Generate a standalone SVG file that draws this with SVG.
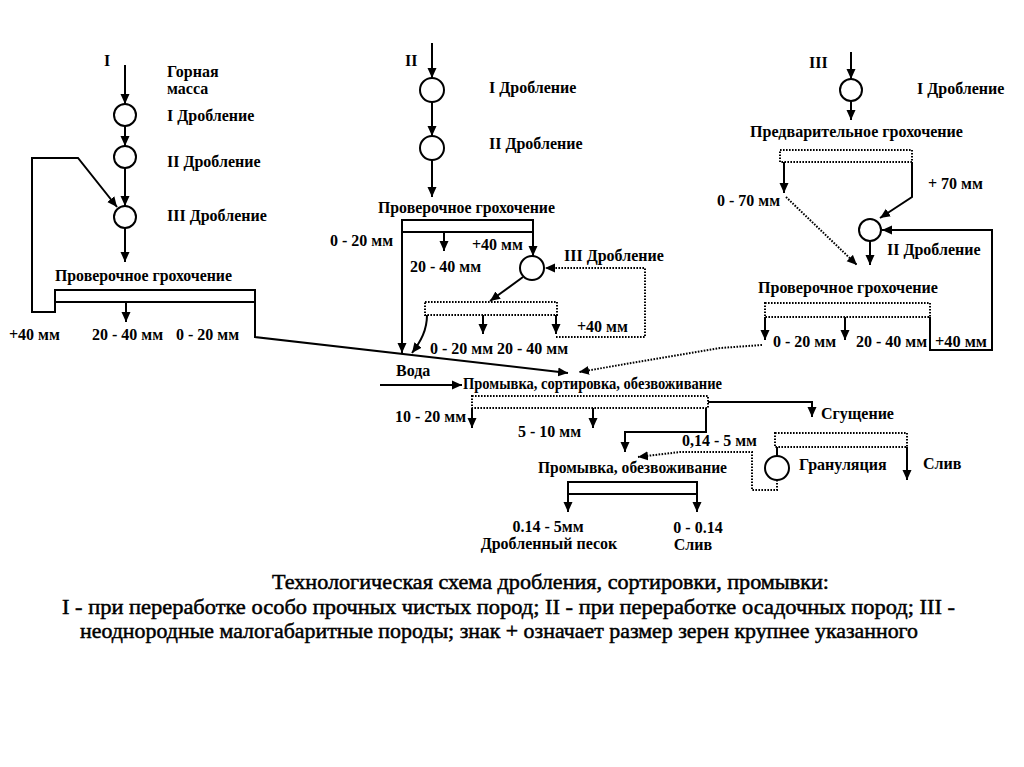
<svg xmlns="http://www.w3.org/2000/svg" width="1024" height="767" viewBox="0 0 1024 767">
<defs>
<style>
.ln{stroke:#000;stroke-width:2;fill:none}
.dt{stroke:#000;stroke-width:2;stroke-dasharray:1.6 1.4;fill:none}
.c{stroke:#000;stroke-width:2;fill:#fff}
.t{font-family:'Liberation Serif','DejaVu Serif',serif;font-size:16px;font-weight:bold;fill:#000}
.m{text-anchor:middle}
.cap{font-family:'Liberation Serif','DejaVu Serif',serif;font-size:22px;fill:#000;stroke:#000;stroke-width:0.5}
</style>
<marker id="a" markerUnits="userSpaceOnUse" markerWidth="10" markerHeight="10" refX="10" refY="5" orient="auto" viewBox="0 0 10 10">
<path d="M0,0.5 L10,5 L0,9.5 z" fill="#000"/>
</marker>
</defs>
<rect width="1024" height="767" fill="#fff"/>

<!-- Section I -->
<g id="s1-label"><text class="t" x="104" y="66">I</text></g>
<g id="s1-mass"><text class="t" x="167" y="77">Горная</text><text class="t" x="167" y="94">масса</text></g>
<g id="s1-c1"><circle class="c" cx="125" cy="115" r="11"/><text class="t" x="167" y="121">I Дробление</text></g>
<g id="s1-c2"><circle class="c" cx="125" cy="157" r="11"/><text class="t" x="167" y="167">II Дробление</text></g>
<g id="s1-c3"><circle class="c" cx="125" cy="217" r="11"/><text class="t" x="167" y="221">III Дробление</text></g>
<g id="s1-screen"><text class="t" x="55" y="281" textLength="177" lengthAdjust="spacingAndGlyphs">Проверочное грохочение</text><rect class="ln" x="55" y="290" width="200" height="12"/></g>
<g id="s1-out"><text class="t" x="9" y="340">+40 мм</text><text class="t" x="92" y="340">20 - 40 мм</text><text class="t" x="176" y="340">0 - 20 мм</text></g>

<!-- Section II -->
<g id="s2-label"><text class="t" x="405" y="66">II</text></g>
<g id="s2-c1"><circle class="c" cx="432" cy="90" r="12"/><text class="t" x="489" y="93">I Дробление</text></g>
<g id="s2-c2"><circle class="c" cx="432" cy="148" r="12"/><text class="t" x="489" y="149">II Дробление</text></g>
<g id="s2-screen1"><text class="t" x="378" y="213" textLength="177" lengthAdjust="spacingAndGlyphs">Проверочное грохочение</text><rect class="ln" x="402" y="220" width="131" height="12"/></g>
<g id="s2-out1"><text class="t" x="330" y="246">0 - 20 мм</text><text class="t" x="472" y="250">+40 мм</text><text class="t" x="410" y="272">20 - 40 мм</text></g>
<g id="s2-c3"><circle class="c" cx="532" cy="268" r="12"/><text class="t" x="564" y="261">III Дробление</text></g>
<g id="s2-screen2"><rect class="dt" x="425" y="302" width="132" height="13"/></g>
<g id="s2-out2"><text class="t" x="430" y="354">0 - 20 мм</text><text class="t" x="497" y="354">20 - 40 мм</text><text class="t" x="577" y="332">+40 мм</text></g>

<!-- Section III -->
<g id="s3-label"><text class="t" x="809" y="68">III</text></g>
<g id="s3-c1"><circle class="c" cx="851" cy="90" r="11"/><text class="t" x="917" y="94">I Дробление</text></g>
<g id="s3-screen1"><text class="t" x="750" y="137" textLength="213" lengthAdjust="spacingAndGlyphs">Предварительное грохочение</text><rect class="dt" x="780" y="150" width="132" height="12"/></g>
<g id="s3-out1"><text class="t" x="717" y="206">0 - 70 мм</text><text class="t" x="928" y="189">+ 70 мм</text></g>
<g id="s3-c2"><circle class="c" cx="870" cy="230" r="11"/><text class="t" x="887" y="255">II Дробление</text></g>
<g id="s3-screen2"><text class="t" x="758" y="293" textLength="180" lengthAdjust="spacingAndGlyphs">Проверочное грохочение</text><rect class="dt" x="765" y="303" width="165" height="14"/></g>
<g id="s3-out2"><text class="t" x="773" y="347">0 - 20 мм</text><text class="t" x="856" y="347">20 - 40 мм</text><text class="t" x="935" y="347" textLength="52" lengthAdjust="spacingAndGlyphs">+40 мм</text></g>

<!-- Washing -->
<g id="water"><text class="t" x="396" y="376">Вода</text></g>
<g id="wash1"><text class="t" x="463" y="389" textLength="259" lengthAdjust="spacingAndGlyphs">Промывка, сортировка, обезвоживание</text><rect class="dt" x="472" y="396" width="236" height="12"/></g>
<g id="wash1-out"><text class="t" x="395" y="422">10 - 20 мм</text><text class="t" x="518" y="437">5 - 10 мм</text></g>
<g id="thick"><text class="t" x="821" y="419">Сгущение</text></g>
<g id="gran"><rect class="dt" x="775" y="433" width="132" height="14"/><circle class="c" cx="777" cy="468" r="12"/><text class="t" x="799" y="470">Грануляция</text></g>
<g id="drain1"><text class="t" x="923" y="469">Слив</text></g>
<g id="sand-label"><text class="t" x="682" y="446" textLength="75" lengthAdjust="spacingAndGlyphs">0,14 - 5 мм</text></g>
<g id="wash2"><text class="t" x="538" y="473" textLength="189" lengthAdjust="spacingAndGlyphs">Промывка, обезвоживание</text><rect class="ln" x="568" y="482" width="129" height="12"/></g>
<g id="sand"><text class="t m" x="548" y="532">0.14 - 5мм</text><text class="t m" x="549" y="549">Дробленный песок</text></g>
<g id="drain2"><text class="t m" x="698" y="533">0 - 0.14</text><text class="t m" x="693" y="550">Слив</text></g>

<!-- Connectors -->
<g id="connectors">
<path class="ln" d="M125,65 L125,104" marker-end="url(#a)"/>
<path class="ln" d="M125,126 L125,146" marker-end="url(#a)"/>
<path class="ln" d="M125,168 L125,206" marker-end="url(#a)"/>
<path class="ln" d="M125,228 L125,262" marker-end="url(#a)"/>
<path class="ln" d="M55,302 L55,312 L32,312 L32,158 L78,158 L117,207" marker-end="url(#a)"/>
<path class="ln" d="M126,302 L126,322" marker-end="url(#a)"/>
<path class="ln" d="M255,302 L255,337 L568,373" marker-end="url(#a)"/>

<path class="ln" d="M432,43 L432,78" marker-end="url(#a)"/>
<path class="ln" d="M432,102 L432,136" marker-end="url(#a)"/>
<path class="ln" d="M432,160 L432,197" marker-end="url(#a)"/>
<path class="ln" d="M402,232 L402,353" marker-end="url(#a)"/>
<path class="ln" d="M444,232 L444,251" marker-end="url(#a)"/>
<path class="ln" d="M533,232 L533,256" marker-end="url(#a)"/>
<path class="ln" d="M523,277 L490,301" marker-end="url(#a)"/>
<path class="ln" d="M483,315 L483,334" marker-end="url(#a)"/>
<path class="ln" d="M556,315 L556,334" marker-end="url(#a)"/>
<path class="dt" d="M556,337 L645,337 L645,268 L545,268" marker-end="url(#a)"/>
<path class="ln" d="M427,315 C427,330 421,341 412,353" marker-end="url(#a)"/>

<path class="ln" d="M851,52 L851,79" marker-end="url(#a)"/>
<path class="ln" d="M851,101 L851,120" marker-end="url(#a)"/>
<path class="ln" d="M784,162 L784,193" marker-end="url(#a)"/>
<path class="dt" d="M786,197 L857,265" marker-end="url(#a)"/>
<path class="ln" d="M912,162 L912,197 L880,218" marker-end="url(#a)"/>
<path class="ln" d="M870,241 L870,265" marker-end="url(#a)"/>
<path class="ln" d="M930,317 L930,350 L992,350 L992,230 L882,230" marker-end="url(#a)"/>
<path class="ln" d="M765,317 L765,340" marker-end="url(#a)"/>
<path class="ln" d="M845,317 L845,340" marker-end="url(#a)"/>
<path class="dt" d="M762,345 L720,348 L579,372" marker-end="url(#a)"/>

<path class="ln" d="M380,385 L462,385" marker-end="url(#a)"/>
<path class="ln" d="M472,408 L472,428" marker-end="url(#a)"/>
<path class="ln" d="M593,408 L593,428" marker-end="url(#a)"/>
<path class="ln" d="M706,408 L706,432 L625,432 L625,452" marker-end="url(#a)"/>
<path class="ln" d="M708,402 L812,402 L812,417" marker-end="url(#a)"/>
<path class="ln" d="M777,447 L777,456"/>
<path class="ln" d="M907,447 L907,480" marker-end="url(#a)"/>
<path class="dt" d="M777,480 L777,490 L752,490 L752,452 L680,452 L638,457" marker-end="url(#a)"/>
<path class="ln" d="M568,494 L568,512" marker-end="url(#a)"/>
<path class="ln" d="M697,494 L697,512" marker-end="url(#a)"/>
</g>

<!-- Caption -->
<g id="caption">
<text class="cap" x="272" y="589" textLength="557" lengthAdjust="spacingAndGlyphs">Технологическая схема дробления, сортировки, промывки:</text>
<text class="cap" x="62" y="614" textLength="893" lengthAdjust="spacingAndGlyphs">I - при переработке особо прочных чистых пород; II - при переработке осадочных пород; III -</text>
<text class="cap" x="80" y="638" textLength="838" lengthAdjust="spacingAndGlyphs">неоднородные малогабаритные породы; знак + означает размер зерен крупнее указанного</text>
</g>
</svg>
